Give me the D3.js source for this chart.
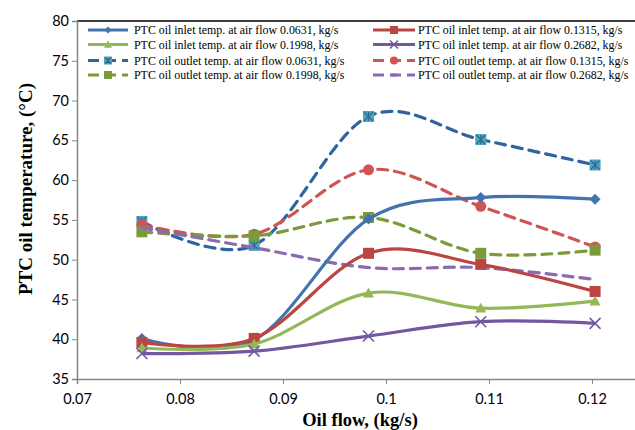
<!DOCTYPE html>
<html>
<head>
<meta charset="utf-8">
<script src="https://cdn.jsdelivr.net/npm/d3@7"></script>
<style>
  body { margin: 0; background: #fff; }
  svg { display: block; }
</style>
</head>
<body>
<div id="chart"></div>
<script>
// oil flow (kg/s)
const oilFlow = [0.0763, 0.0872, 0.0983, 0.1092, 0.1203];

// inlet temperatures (°C)
const inlet0631 = [40.1, 39.9, 55.1, 57.8, 57.6];
const inlet1315 = [39.6, 40.1, 50.8, 49.4, 46.0];
const inlet1998 = [38.9, 39.4, 45.8, 43.9, 44.8];
const inlet2682 = [38.2, 38.5, 40.4, 42.2, 42.0];

// outlet temperatures (°C)
const outlet0631 = [54.8, 51.8, 68.0, 65.1, 61.9];
const outlet1315 = [54.4, 53.2, 61.3, 56.7, 51.6];
const outlet1998 = [53.5, 53.0, 55.3, 50.8, 51.2];
const outlet2682 = [54.0, 51.5, 49.0, 49.0, 47.5];

const yTicks = [35, 40, 45, 50, 55, 60, 65, 70, 75, 80];
const xTicks = [0.07, 0.08, 0.09, 0.1, 0.11, 0.12];

const series = [
  { name: "PTC oil inlet temp. at air flow 0.0631, kg/s", values: inlet0631, color: "#4373AD", dash: null, marker: "diamond", mfill: "#4373AD" },
  { name: "PTC oil inlet temp. at air flow 0.1315, kg/s", values: inlet1315, color: "#BA4543", dash: null, marker: "square", mfill: "#BA4543" },
  { name: "PTC oil inlet temp. at air flow 0.1998, kg/s", values: inlet1998, color: "#95B856", dash: null, marker: "triangle", mfill: "#95B856" },
  { name: "PTC oil inlet temp. at air flow 0.2682, kg/s", values: inlet2682, color: "#7258A0", dash: null, marker: "x", mfill: "#7258A0" },
  { name: "PTC oil outlet temp. at  air flow 0.0631, kg/s", values: outlet0631, color: "#30649F", dash: "10,7", marker: "boxx", mfill: "#4BA6C2" },
  { name: "PTC oil outlet temp. at  air flow 0.1315, kg/s", values: outlet1315, color: "#CF5552", dash: "10,7", marker: "circle", mfill: "#CF5552" },
  { name: "PTC oil outlet temp. at air flow 0.1998, kg/s", values: outlet1998, color: "#7A9B3B", dash: "10,7", marker: "square", mfill: "#7A9B3B" },
  { name: "PTC oil outlet temp. at air flow 0.2682, kg/s", values: outlet2682, color: "#8A6AB1", dash: "10,7", marker: "dash", mfill: "#8A6AB1" }
];

const width = 635, height = 430;
const margin = { top: 21, left: 77, bottom: 379 };

const svg = d3.select("#chart").append("svg")
  .attr("width", width).attr("height", height);

const x = d3.scaleLinear().domain([0.07, 0.125]).range([margin.left, margin.left + 5.5 * 103]);
const y = d3.scaleLinear().domain([35, 80]).range([margin.bottom, margin.top]);

// plot frame (top edge)
svg.append("line")
  .attr("x1", x(0.07)).attr("x2", width)
  .attr("y1", y(80)).attr("y2", y(80))
  .attr("stroke", "#000").attr("stroke-width", 1.5);

// axes
const yAxis = d3.axisLeft(y).tickValues(yTicks).tickSize(5).tickFormat(d3.format("d"));
const xAxis = d3.axisBottom(x).tickValues(xTicks).tickSize(5).tickFormat(d => d3.format("")(+d.toFixed(2)));

const gy = svg.append("g").attr("transform", `translate(${x(0.07)},0)`).call(yAxis);
const gx = svg.append("g").attr("transform", `translate(0,${y(35)})`).call(xAxis);

[gy, gx].forEach(g => {
  g.select(".domain").attr("stroke", "#868686").attr("stroke-width", 1.5);
  g.selectAll(".tick line").attr("stroke", "#868686").attr("stroke-width", 1);
  g.selectAll(".tick text")
    .attr("fill", "#000")
    .style("font-family", "Lato, 'Open Sans', sans-serif")
    .style("font-size", "14.5px");
});
gy.selectAll(".tick text").attr("x", -8);
gx.selectAll(".tick text").attr("y", 15);

// axis titles
svg.append("text")
  .attr("transform", `translate(32,189) rotate(-90)`)
  .attr("text-anchor", "middle")
  .style("font-family", "'Liberation Serif', 'Times New Roman', serif")
  .style("font-weight", "bold").style("font-size", "19px")
  .text("PTC oil temperature, (°C)");

svg.append("text")
  .attr("x", 360).attr("y", 426)
  .attr("text-anchor", "middle")
  .style("font-family", "'Liberation Serif', 'Times New Roman', serif")
  .style("font-weight", "bold").style("font-size", "18.5px")
  .text("Oil flow, (kg/s)");

// markers
function drawMarker(g, type, cx, cy, s, fill) {
  const r = s / 2;
  if (type === "diamond") {
    g.append("path").attr("d", `M${cx},${cy - r}L${cx + r},${cy}L${cx},${cy + r}L${cx - r},${cy}Z`).attr("fill", fill);
  } else if (type === "square") {
    g.append("rect").attr("x", cx - r).attr("y", cy - r).attr("width", s).attr("height", s).attr("fill", fill);
  } else if (type === "triangle") {
    g.append("path").attr("d", `M${cx},${cy - r}L${cx + r},${cy + r * 0.8}L${cx - r},${cy + r * 0.8}Z`).attr("fill", fill);
  } else if (type === "circle") {
    g.append("circle").attr("cx", cx).attr("cy", cy).attr("r", r).attr("fill", fill);
  } else if (type === "x") {
    g.append("path").attr("d", `M${cx - r},${cy - r}L${cx + r},${cy + r}M${cx + r},${cy - r}L${cx - r},${cy + r}`)
      .attr("stroke", fill).attr("stroke-width", 1.6).attr("fill", "none");
  } else if (type === "boxx") {
    g.append("rect").attr("x", cx - r).attr("y", cy - r).attr("width", s).attr("height", s).attr("fill", fill);
    g.append("path").attr("d", `M${cx - r + 1},${cy - r + 1}L${cx + r - 1},${cy + r - 1}M${cx + r - 1},${cy - r + 1}L${cx - r + 1},${cy + r - 1}M${cx},${cy - r + 1}L${cx},${cy + r - 1}`)
      .attr("stroke", "#2F6A8F").attr("stroke-width", 1.2);
  } else if (type === "dash") {
    g.append("line").attr("x1", cx - r).attr("x2", cx + r).attr("y1", cy).attr("y2", cy)
      .attr("stroke", fill).attr("stroke-width", 3);
  }
}

const line = d3.line()
  .x((d, i) => x(oilFlow[i]))
  .y(d => y(d))
  .curve(d3.curveCatmullRom.alpha(0));

// draw order: outlet first, then inlet
const order = [4, 5, 6, 7, 0, 1, 2, 3];
order.forEach(k => {
  const s = series[k];
  const g = svg.append("g");
  g.append("path")
    .attr("d", line(s.values))
    .attr("fill", "none")
    .attr("stroke", s.color)
    .attr("stroke-width", 3.2)
    .attr("stroke-dasharray", s.dash)
    .attr("stroke-linecap", s.dash ? "round" : "butt");
  s.values.forEach((v, i) => {
    if (s.marker === "dash") return;
    drawMarker(g, s.marker, x(oilFlow[i]), y(v), 11, s.mfill);
  });
});

// legend
const legendRows = [30, 44.5, 60.5, 75];
const legendCols = [{ x0: 88, x1: 128, tx: 134 }, { x0: 373, x1: 415, tx: 418 }];
const legendPos = [[0, 0], [1, 0], [0, 1], [1, 1], [0, 2], [1, 2], [0, 3], [1, 3]];

series.forEach((s, k) => {
  const [c, r] = legendPos[k];
  const col = legendCols[c], ly = legendRows[r];
  const g = svg.append("g");
  g.append("line")
    .attr("x1", col.x0).attr("x2", col.x1).attr("y1", ly).attr("y2", ly)
    .attr("stroke", s.color).attr("stroke-width", 3)
    .attr("stroke-dasharray", s.dash ? "11,6" : null);
  const cx = (col.x0 + col.x1) / 2;
  if (s.marker === "dash") {
    g.append("line").attr("x1", cx - 3).attr("x2", cx + 3).attr("y1", ly).attr("y2", ly)
      .attr("stroke", s.color).attr("stroke-width", 3);
  } else {
    drawMarker(g, s.marker, cx, ly, s.marker === "diamond" ? 7 : 8, s.mfill);
  }
  g.append("text")
    .attr("x", col.tx).attr("y", ly + 4)
    .style("font-family", "'Liberation Serif', 'Times New Roman', serif")
    .style("font-size", "11.9px")
    .attr("fill", "#000")
    .text(s.name);
});
</script>
</body>
</html>
